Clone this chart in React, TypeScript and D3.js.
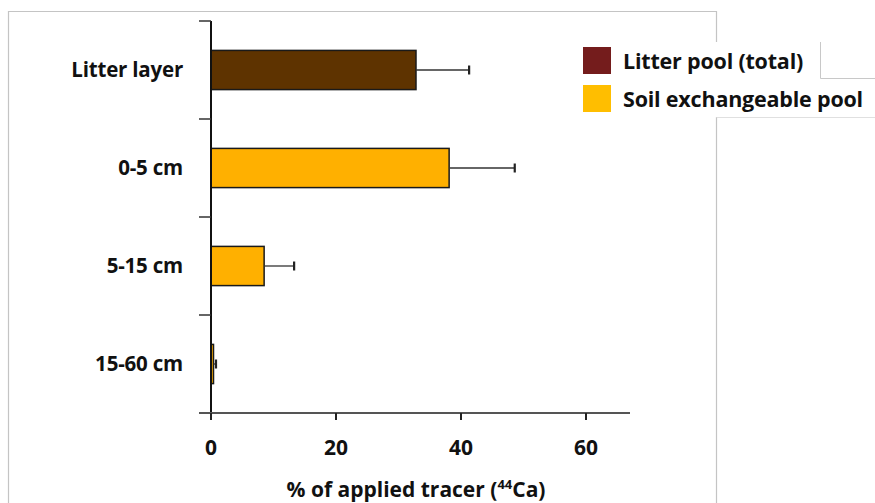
import React from "react";
import * as d3 from "d3";

const categories = ["Litter layer", "0-5 cm", "5-15 cm", "15-60 cm"];
const values = [32.8, 38.1, 8.5, 0.4];
const errors = [8.5, 10.5, 4.8, 0.4];
const pools = ["litter", "soil", "soil", "soil"];
const xTicks = [0, 20, 40, 60];
const legendLabels = ["Litter pool (total)", "Soil exchangeable pool"];

const barColors: Record<string, string> = { litter: "#5E3300", soil: "#FFB000" };
const legendColors = ["#741C1C", "#FFBE00"];

export default function App() {
  const W = 875, H = 503;
  const x = d3.scaleLinear().domain([0, 60]).range([211, 586]);
  const y = d3.scaleBand().domain(categories).range([21, 413]).paddingInner(0.6).paddingOuter(0.3);
  const band = d3.scaleBand().domain(categories).range([21, 413]);
  const font = "'Open Sans', 'Noto Sans', sans-serif";
  return (
    <svg width={W} height={H} style={{ position: "absolute", left: 0, top: 0, background: "#fff" }}>
      <rect x={0} y={0} width={W} height={H} fill="#fff" />
      {/* frame */}
      <path d={`M8.5,${H} V11.5 H716.5 V${H}`} fill="none" stroke="#c4c4c4" strokeWidth={1.2} />
      {/* legend box */}
      <rect x={572} y={42} width={303} height={75} fill="#fff" />
      <path d="M820.5,42 V78.5 H875" fill="none" stroke="#c8c8c8" strokeWidth={1} />
      <path d="M716.5,117.5 H875" fill="none" stroke="#e0e0e0" strokeWidth={1} />
      {/* bars */}
      {categories.map((c, i) => {
        const yy = y(c)!;
        const h = y.bandwidth();
        const cy = yy + h / 2;
        const xe = x(values[i] + errors[i]);
        return (
          <g key={c}>
            <rect x={x(0)} y={yy} width={x(values[i]) - x(0)} height={h} fill={barColors[pools[i]]} stroke="#1a1a1a" strokeWidth={1.5} />
            <line x1={x(values[i])} x2={xe} y1={cy} y2={cy} stroke="#333" strokeWidth={1.3} />
            <line x1={xe} x2={xe} y1={cy - 4.5} y2={cy + 4.5} stroke="#222" strokeWidth={2.2} />
            <text x={183} y={cy} dy="0.35em" textAnchor="end" fontFamily={font} fontWeight={700} fontSize={20.5} fill="#111" style={{ letterSpacing: "-0.2px" }}>{c}</text>
          </g>
        );
      })}
      {/* y axis */}
      <line x1={211} x2={211} y1={21} y2={414} stroke="#111" strokeWidth={2} />
      {band.domain().map((c) => (
        <line key={c} x1={199} x2={211} y1={band(c)!} y2={band(c)!} stroke="#333" strokeWidth={1.5} />
      ))}
      <line x1={199} x2={211} y1={413} y2={413} stroke="#444" strokeWidth={1.5} />
      {/* x axis */}
      <line x1={199} x2={630} y1={413} y2={413} stroke="#555" strokeWidth={2} />
      {xTicks.map((t) => (
        <g key={t}>
          <line x1={x(t)} x2={x(t)} y1={413} y2={420} stroke="#222" strokeWidth={2} />
          <text x={x(t)} y={455} textAnchor="middle" fontFamily={font} fontWeight={700} fontSize={21} fill="#111">{t}</text>
        </g>
      ))}
      <text x={416} y={497} textAnchor="middle" fontFamily={font} fontWeight={700} fontSize={21} fill="#111">
        % of applied tracer (<tspan fontSize={13} dy={-8}>44</tspan><tspan dy={8}>Ca)</tspan>
      </text>
      {/* legend */}
      {legendLabels.map((l, i) => (
        <g key={l}>
          <rect x={583} y={47 + i * 38} width={28} height={27} fill={legendColors[i]} />
          <text x={623} y={61 + i * 38} dy="0.35em" fontFamily={font} fontWeight={700} fontSize={21.5} fill="#111" style={{ letterSpacing: "-0.2px" }}>{l}</text>
        </g>
      ))}
    </svg>
  );
}
